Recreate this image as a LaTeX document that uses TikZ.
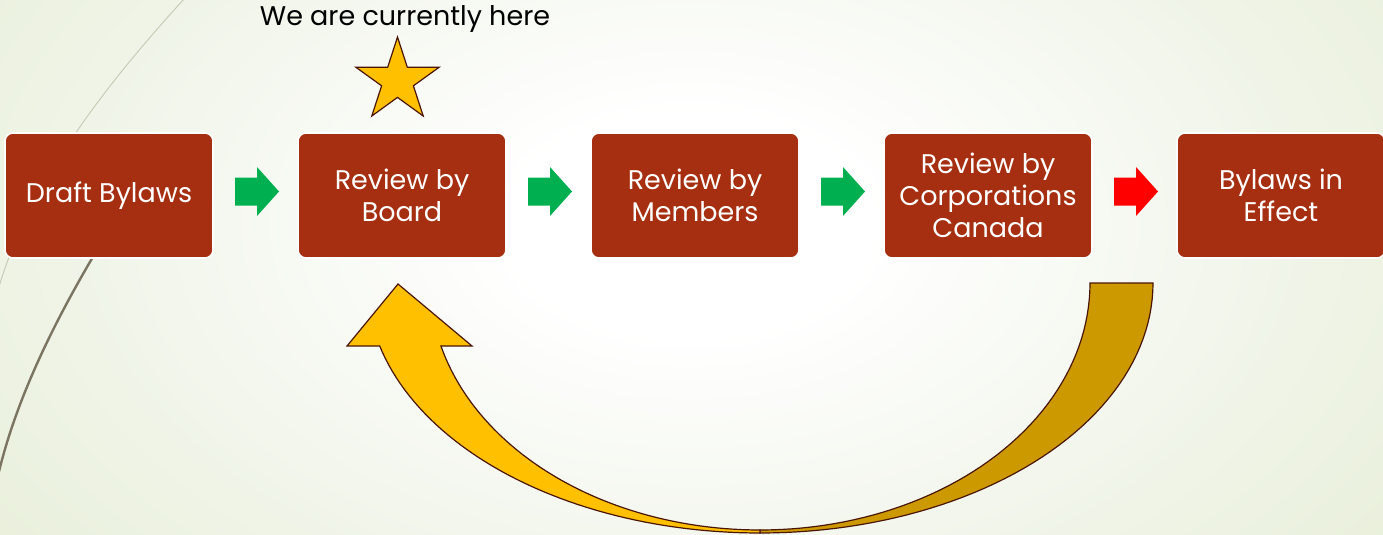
\documentclass[tikz,border=0pt]{standalone}
\usepackage{fontspec}
\setmainfont{Poppins}
\usetikzlibrary{calc}
\definecolor{bgGreen}{HTML}{DFE9C8}
\definecolor{midGreen}{HTML}{F1F5EA}
\definecolor{boxRed}{HTML}{A52F10}
\definecolor{arrGreen}{HTML}{00B050}
\definecolor{arrRed}{HTML}{FF0000}
\definecolor{gold}{HTML}{FFC000}
\definecolor{darkgold}{HTML}{CC9900}
\definecolor{outlineBrown}{HTML}{4A1505}
\definecolor{lightLine}{HTML}{C4CAB3}
\definecolor{darkLine}{HTML}{7B7461}
\pgfdeclareradialshading{bgshade}{\pgfpoint{0bp}{0bp}}{color(0bp)=(white); color(5bp)=(white); color(16bp)=(midGreen); color(34bp)=(bgGreen); color(50bp)=(bgGreen)}
\tikzset{
  stepbox/.style={rounded corners=8pt, fill=boxRed, draw=white, line width=1.6pt,
    minimum width=208pt, minimum height=125pt, text=white, align=center,
    font=\fontsize{27}{32}\selectfont, inner sep=2pt},
  blockarrow/.pic={\fill[pic actions] (-22,-14) -- (0,-14) -- (0,-24.5) -- (22,0) -- (0,24.5) -- (0,14) -- (-22,14) -- cycle;},
  outl/.style={draw=outlineBrown, line width=1.2pt, line join=miter}
}
\begin{document}
\begin{tikzpicture}[x=1pt, y=-1pt]
\useasboundingbox (0,0) rectangle (1383,535);
\begin{scope}
\clip (0,0) rectangle (1383,535);
\fill[bgGreen] (0,0) rectangle (1383,535);
\shade[shading=bgshade] (690,225) ellipse [x radius=900, y radius=560];
% decorative curves
\draw[lightLine, line width=0.9pt] (185,-2) .. controls (110,80) and (30,180) .. (-2,290);
\draw[darkLine, line width=2.4pt] (100,245) .. controls (55,320) and (15,400) .. (-3,480);
\end{scope}

% boxes
\node[stepbox] (b1) at (109,195.5) {Draft Bylaws};
\node[stepbox] (b2) at (402,195.5) {Review by\\Board};
\node[stepbox] (b3) at (695,195.5) {Review by\\Members};
\node[stepbox] (b4) at (988,195.5) {Review by\\Corporations\\Canada};
\node[stepbox] (b5) at (1281,195.5) {Bylaws in\\Effect};

% block arrows
\path ($(b1.east)!0.5!(b2.west)+(1.5,-4)$) pic[fill=arrGreen] {blockarrow};
\path ($(b2.east)!0.5!(b3.west)+(1.5,-4)$) pic[fill=arrGreen] {blockarrow};
\path ($(b3.east)!0.5!(b4.west)+(1.5,-4)$) pic[fill=arrGreen] {blockarrow};
\path ($(b4.east)!0.5!(b5.west)+(1.5,-4)$) pic[fill=arrRed] {blockarrow};

% label and star
\node[font=\fontsize{27}{30}\selectfont, text=black] (here) at (405,19) {We are currently here};
\draw[outl, fill=gold] (397.5,37) -- (407.3,67.2) -- (439.2,67.2) -- (413.4,85.8) -- (423.2,116)
  -- (397.5,97.4) -- (371.8,116) -- (381.6,85.8) -- (355.8,67.2) -- (387.7,67.2) -- cycle;

% curved arrow: dark back part
\draw[outl, fill=darkgold]
  plot[domain=0:90, samples=50, variable=\t] ({760+393*cos(\t)},{283+250*sin(\t)})
  -- plot[domain=90:0, samples=50, variable=\t] ({760+330*cos(\t)},{283+247*sin(\t)})
  -- cycle;
% curved arrow: front part with head
\draw[outl, fill=gold]
  plot[domain=90:165.4, samples=50, variable=\t] ({760+393*cos(\t)},{283+250*sin(\t)})
  -- (347,346) -- (398,284) -- (472,346) --
  plot[domain=165.2:90, samples=50, variable=\t] ({760+330*cos(\t)},{283+247*sin(\t)})
  -- cycle;
\end{tikzpicture}
\end{document}
